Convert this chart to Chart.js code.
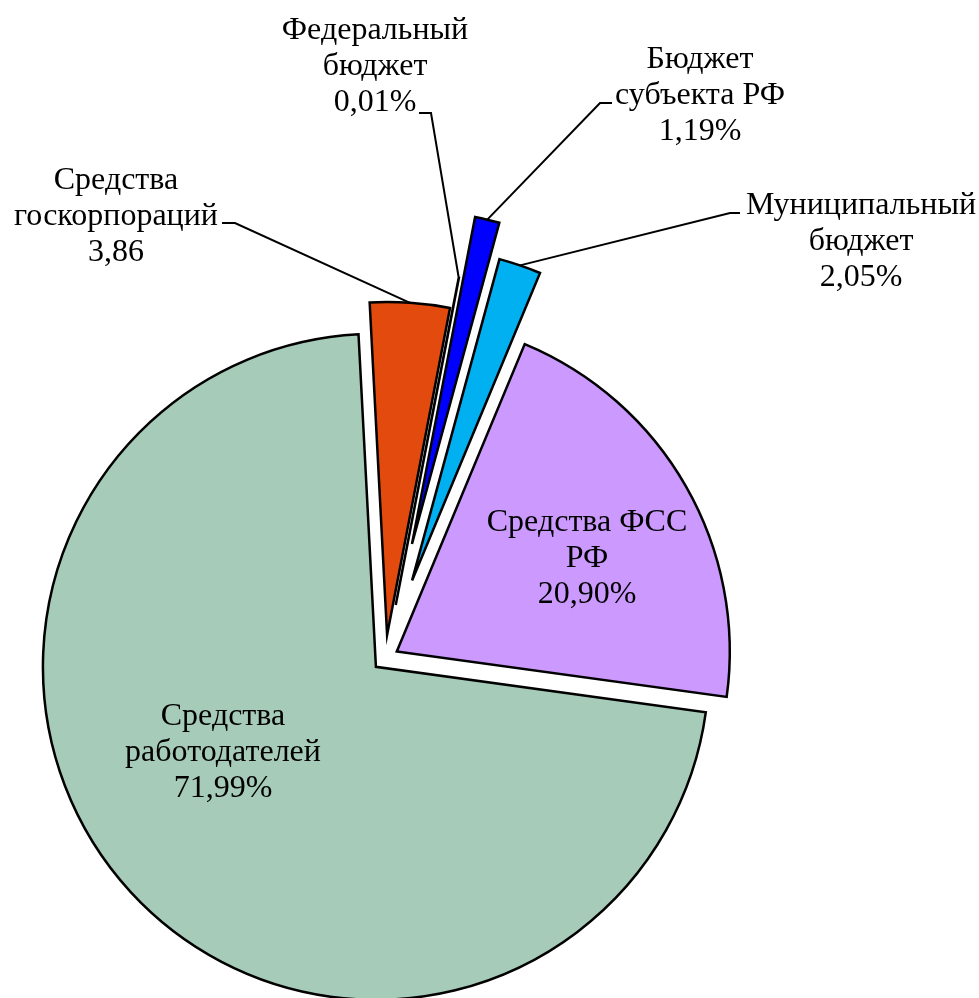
<!DOCTYPE html>
<html><head><meta charset="utf-8">
<script src="https://cdn.jsdelivr.net/npm/chart.js@4"></script>
<style>html,body{margin:0;padding:0;background:#fff}#wrap{width:979px;height:998px;position:relative}</style>
</head><body><div id="wrap"><canvas id="c" width="979" height="998"></canvas></div>
<script>
// ---- data ----
const categories = ['Средства госкорпораций','Федеральный бюджет','Бюджет субъекта РФ','Муниципальный бюджет','Средства ФСС РФ','Средства работодателей'];
const shares = [3.86, 0.01, 1.19, 2.05, 20.90, 71.99];
const valueLabels = ['3,86','0,01%','1,19%','2,05%','20,90%','71,99%'];
const nameLines = [['Средства','госкорпораций'],['Федеральный','бюджет'],['Бюджет','субъекта РФ'],['Муниципальный','бюджет'],['Средства ФСС','РФ'],['Средства','работодателей']];

// ---- styles / layout ----
const sliceColors = ['#E34A0E','#FFFFFF','#0000FF','#00B0F0','#CC99FF','#A6CBB8'];
const explode = [23, 54, 117, 82, 13, 13];
const labelLayout = [
  {x:116, y:189, leader:[[222,223],[235,223]]},
  {x:375, y:39,  leader:[[419,113],[431,113]]},
  {x:700, y:68,  leader:[[612,103],[600,103]]},
  {x:861, y:214, leader:[[740,213],[730,213]]},
  {x:587, y:531, leader:null},
  {x:223, y:725, leader:null}
];
const FONT = '32px "Liberation Serif", "Times New Roman", serif';
const LINE_H = 36;

const explodePlugin = {
  id:'explode',
  afterUpdate(chart){
    const meta = chart.getDatasetMeta(0);
    meta.data.forEach((arc,i)=>{
      const mid = (arc.startAngle + arc.endAngle)/2;
      arc.x += Math.cos(mid)*explode[i];
      arc.y += Math.sin(mid)*explode[i];
    });
  }
};

const labelPlugin = {
  id:'labels',
  afterDraw(chart){
    const ctx = chart.ctx;
    const meta = chart.getDatasetMeta(0);
    ctx.save();
    ctx.strokeStyle = '#000';
    ctx.lineWidth = 2;
    meta.data.forEach((arc,i)=>{
      const L = labelLayout[i];
      if (L.leader){
        const mid = (arc.startAngle + arc.endAngle)/2;
        const px = arc.x + Math.cos(mid)*arc.outerRadius;
        const py = arc.y + Math.sin(mid)*arc.outerRadius;
        ctx.beginPath();
        ctx.moveTo(L.leader[0][0], L.leader[0][1]);
        ctx.lineTo(L.leader[1][0], L.leader[1][1]);
        ctx.lineTo(px, py);
        ctx.stroke();
      }
    });
    ctx.fillStyle = '#000';
    ctx.font = FONT;
    ctx.textAlign = 'center';
    ctx.textBaseline = 'alphabetic';
    labelLayout.forEach((L,i)=>{
      const lines = nameLines[i].concat([valueLabels[i]]);
      lines.forEach((t,k)=>ctx.fillText(t, L.x, L.y + k*LINE_H));
    });
    ctx.restore();
  }
};

new Chart(document.getElementById('c'), {
  type:'pie',
  data:{
    labels:categories,
    datasets:[{
      data:shares,
      backgroundColor:sliceColors,
      borderColor:'#000',
      borderWidth:2.5,
      borderJoinStyle:'miter',
      clip:false
    }]
  },
  options:{
    responsive:false,
    devicePixelRatio:1,
    animation:false,
    events:[],
    rotation:-3.0,
    radius:333,
    layout:{padding:{left:0,right:208,top:318,bottom:0}},
    plugins:{legend:{display:false},tooltip:{enabled:false}}
  },
  plugins:[explodePlugin, labelPlugin]
});
</script>
</body></html>
